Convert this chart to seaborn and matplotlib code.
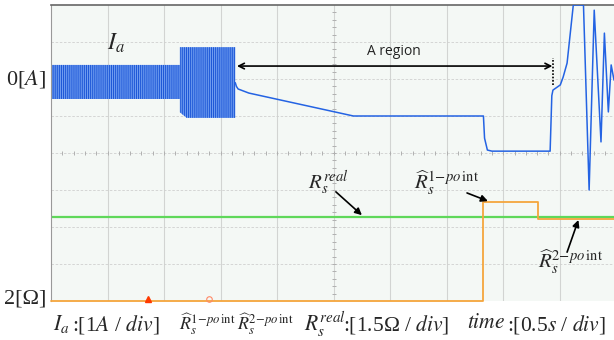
import matplotlib
matplotlib.use("Agg")
import matplotlib.pyplot as plt
import seaborn as sns
import pandas as pd
import numpy as np

# --- datos leidos del osciloscopio (divisiones: x 0..10, y 0..8) ---
# envolvente de la corriente Ia (zona con oscilacion densa)
banda_t = [0.0, 2.28, 2.28, 2.40, 3.26]
banda_sup = [6.38, 6.38, 6.86, 6.86, 6.86]
banda_inf = [5.46, 5.46, 5.10, 4.95, 4.95]

# traza de Ia despues de la zona de oscilacion
ia_t = [3.26, 3.28, 3.31, 3.50, 5.35, 7.65, 7.67, 7.72, 7.80, 8.83, 8.86, 8.88,
        9.01, 9.06, 9.13, 9.24, 9.42, 9.52, 9.61, 9.73, 9.79, 9.86, 9.91, 9.96]
ia_d = [5.90, 5.80, 5.73, 5.62, 5.00, 5.00, 4.40, 4.08, 4.05, 4.05, 5.55, 5.70,
        5.84, 6.05, 6.43, 8.00, 8.00, 3.00, 7.86, 4.30, 7.24, 5.11, 6.38, 5.97]

# resistencia real (verde) y estimada (naranja)
rreal_t = [0.0, 9.96]
rreal_d = [2.28, 2.28]
rest_t = [0.0, 7.64, 7.64, 8.62, 8.62, 9.96]
rest_d = [0.0, 0.0, 2.68, 2.68, 2.22, 2.22]

# marcadores del disparo en el borde inferior
marca_t = [1.72, 2.80]

sns.set_style("white")
plt.rcParams["font.family"] = ["Liberation Serif", "DejaVu Serif"]
plt.rcParams["mathtext.fontset"] = "stix"
plt.rcParams["hatch.linewidth"] = 0.7

fig = plt.figure(figsize=(6.14, 3.40), dpi=100)
ax = fig.add_axes([51 / 614, 39 / 340, 563 / 614, 296 / 340])
ax.set_facecolor("#f4f8f5")
ax.set_xlim(0, 9.96)
ax.set_ylim(0, 8)

# reticula
for xv in range(1, 10):
    ax.axvline(xv, color="#d2d4d2", lw=0.8, zorder=0)
for yv in range(1, 8):
    ax.axhline(yv, color="#cfd0cf", lw=0.6, ls=(0, (3, 2)), zorder=0)
# marcas pequenas sobre los ejes centrales
ax.plot(np.full(39, 5.0), np.arange(0.2, 8, 0.2), ls="none", marker="_",
        ms=3, color="#b0b0b0", mew=0.7, zorder=0)
ax.plot(np.arange(0.2, 10, 0.2), np.full(49, 4.0), ls="none", marker="|",
        ms=3, color="#b0b0b0", mew=0.7, zorder=0)

# Ia: envolvente con rayado vertical
ax.fill_between(banda_t, banda_inf, banda_sup, facecolor="#6f9cf0",
                edgecolor="#1a55d6", hatch="||||||||", lw=0, zorder=2)
ia = pd.DataFrame({"t": ia_t, "d": ia_d})
sns.lineplot(data=ia, x="t", y="d", sort=False, estimator=None,
             color="#2463e3", lw=1.1, ax=ax, zorder=3)

rreal = pd.DataFrame({"t": rreal_t, "d": rreal_d})
sns.lineplot(data=rreal, x="t", y="d", sort=False, estimator=None,
             color="#5fd85a", lw=1.6, ax=ax, zorder=2)
rest = pd.DataFrame({"t": rest_t, "d": rest_d})
linea = sns.lineplot(data=rest, x="t", y="d", sort=False, estimator=None,
                     color="#f5a53c", lw=1.3, ax=ax, zorder=3)
linea.lines[-1].set_clip_on(False)

ax.plot(marca_t[0], 0.05, marker="^", ms=4, color="#ff3a00", clip_on=False, zorder=4)
ax.plot(marca_t[1], 0.05, marker="o", ms=4, mfc="none", mec="#ff8866",
        mew=0.8, clip_on=False, zorder=4)

for lado in ["right", "bottom"]:
    ax.spines[lado].set_visible(False)
ax.spines["top"].set_color("#666666")
ax.spines["top"].set_linewidth(1.2)
ax.spines["left"].set_color("#999999")
ax.spines["left"].set_linewidth(0.8)
ax.set_xticks([])
ax.set_yticks([])
ax.set_xlabel("")
ax.set_ylabel("")

# anotaciones
flecha = dict(arrowstyle="-|>", color="black", lw=1.2, shrinkA=0, shrinkB=0)
ax.text(1.15, 6.97, r"$I_a$", fontsize=17, ha="center", va="center")
ax.annotate("", xy=(3.29, 6.35), xytext=(8.87, 6.35),
            arrowprops=dict(arrowstyle="<->", color="black", lw=1.2,
                            shrinkA=0, shrinkB=0))
ax.plot([8.88, 8.88], [5.84, 6.57], color="black", lw=1.2, ls=(0, (1, 1)))
ax.text(6.07, 6.73, "A region", fontsize=10, family="Open Sans",
        color="#222222", ha="center", va="center")

ax.text(4.90, 3.19, r"$R_s^{real}$", fontsize=15, ha="center", va="center")
ax.annotate("", xy=(5.50, 2.32), xytext=(5.04, 2.95), arrowprops=flecha)
ax.text(6.99, 3.19, r"$\widehat{R}_s^{1\!-\!po\,\mathrm{int}}$", fontsize=15,
        ha="center", va="center")
ax.annotate("", xy=(7.73, 2.70), xytext=(7.36, 2.92), arrowprops=flecha)
ax.text(9.19, 1.05, r"$\widehat{R}_s^{2\!-\!po\,\mathrm{int}}$", fontsize=15,
        ha="center", va="center")
ax.annotate("", xy=(9.33, 2.19), xytext=(9.13, 1.32), arrowprops=flecha)

# etiquetas de nivel a la izquierda
fig.text(46 / 614, 1 - 79 / 340, r"0[$A$]", fontsize=16, ha="right", va="center")
fig.text(46 / 614, 1 - 299 / 340, "2[\u03a9]", fontsize=16, ha="right", va="center")

# leyenda inferior
yb = 1 - 324 / 340
fs = 15.5
fig.text(53 / 614, yb, r"$I_a$", fontsize=fs, va="center")
fig.text(72 / 614, yb, r":[1$A$ / $div$]", fontsize=fs, va="center")
fig.text(179 / 614, yb, r"$\widehat{R}_s^{1\!-\!po\,\mathrm{int}}$", fontsize=13, va="center")
fig.text(237 / 614, yb, r"$\widehat{R}_s^{2\!-\!po\,\mathrm{int}}$", fontsize=13, va="center")
fig.text(304 / 614, yb, r"$R_s^{real}$", fontsize=fs, va="center")
fig.text(343 / 614, yb, ":[1.5\u03a9 / $div$]", fontsize=fs, va="center")
fig.text(467 / 614, yb, r"$time$", fontsize=fs, va="center")
fig.text(507 / 614, yb, r":[0.5$s$ / $div$]", fontsize=fs, va="center")

fig.savefig("out.png", dpi=100)
